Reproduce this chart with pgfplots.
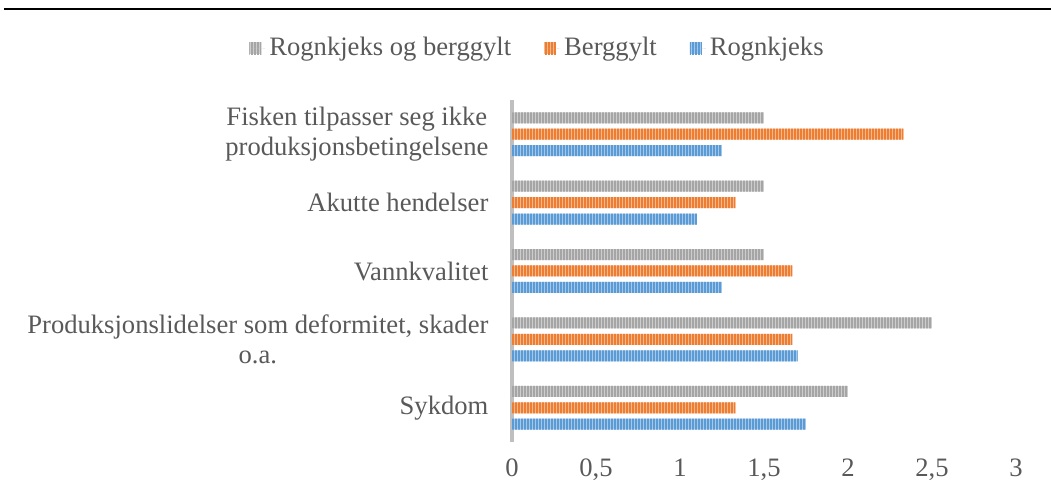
\documentclass[border=0pt]{standalone}
\usepackage{fontspec}
\setmainfont{Liberation Serif}
\usepackage{pgfplots}
\usepackage{pgfplotstable}
\pgfplotsset{compat=1.18}
\usetikzlibrary{patterns.meta}

\definecolor{txt}{HTML}{595959}
\definecolor{axc}{HTML}{BFBFBF}
\definecolor{cgray}{HTML}{A5A5A5}
\definecolor{corange}{HTML}{ED7D31}
\definecolor{cblue}{HTML}{5B9BD5}

\newcommand{\lbl}{\fontsize{13.3}{15}\selectfont}

\pgfplotsset{
  stripes/.style={draw=none, fill=#1!55!white,
    postaction={pattern={Lines[angle=90,distance=1.5pt,line width=0.75pt]}, pattern color=#1},
    legend image code/.code={\fill[##1] (0pt,-3pt) rectangle (6pt,3pt);
      \path (0pt,0pt) -- (8pt,0pt);}},
}

% y: 0 = Sykdom ... 4 = Fisken
\pgfplotstableread{
y rognkjeks berggylt begge
0 1.75 1.33 2.00
1 1.70 1.67 2.50
2 1.25 1.67 1.50
3 1.10 1.33 1.50
4 1.25 2.33 1.50
}\data

\begin{document}
\begin{tikzpicture}
\useasboundingbox (-256pt,-28pt) rectangle (269.5pt,221pt);
\begin{axis}[
    at={(0,0)}, anchor=south west,
    scale only axis,
    width=252pt, height=171pt,
    xbar, bar width=5.5pt,
    xmin=0, xmax=3, ymin=-0.5, ymax=4.5,
    xtick={0,0.5,1,1.5,2,2.5,3},
    ytick={0,1,2,3,4},
    yticklabels={Sykdom,
      {Produksjonslidelser som deformitet, skader\\o.a.},
      Vannkvalitet,
      Akutte hendelser,
      {Fisken tilpasser seg ikke\\produksjonsbetingelsene}},
    /pgf/number format/use comma,
    /pgf/number format/assume math mode=true,
    tick style={draw=none},
    separate axis lines,
    axis x line*=bottom, axis y line*=left,
    x axis line style={draw=none},
    y axis line style={draw=axc, line width=1.9pt},
    xticklabel style={font=\lbl, text=txt, yshift=-5pt},
    yticklabel style={font=\lbl, text=txt, align=center, xshift=-4pt},
    legend style={at={(0.0526,1.152)}, anchor=center, draw=none, fill=none,
      font=\lbl, text=txt,
      /tikz/every even column/.append style={column sep=14.5pt}},
    legend columns=-1,
    reverse legend,
]
\addplot[stripes=cblue, bar shift=-8.2pt] table[x=rognkjeks, y=y] {\data};
\addplot[stripes=corange, bar shift=0pt] table[x=berggylt, y=y] {\data};
\addplot[stripes=cgray, bar shift=8.2pt] table[x=begge, y=y] {\data};
\legend{Rognkjeks, Berggylt, Rognkjeks og berggylt}
\end{axis}
\draw[line width=0.75pt] (-254pt,216.5pt) -- (269.5pt,216.5pt);
\end{tikzpicture}
\end{document}
